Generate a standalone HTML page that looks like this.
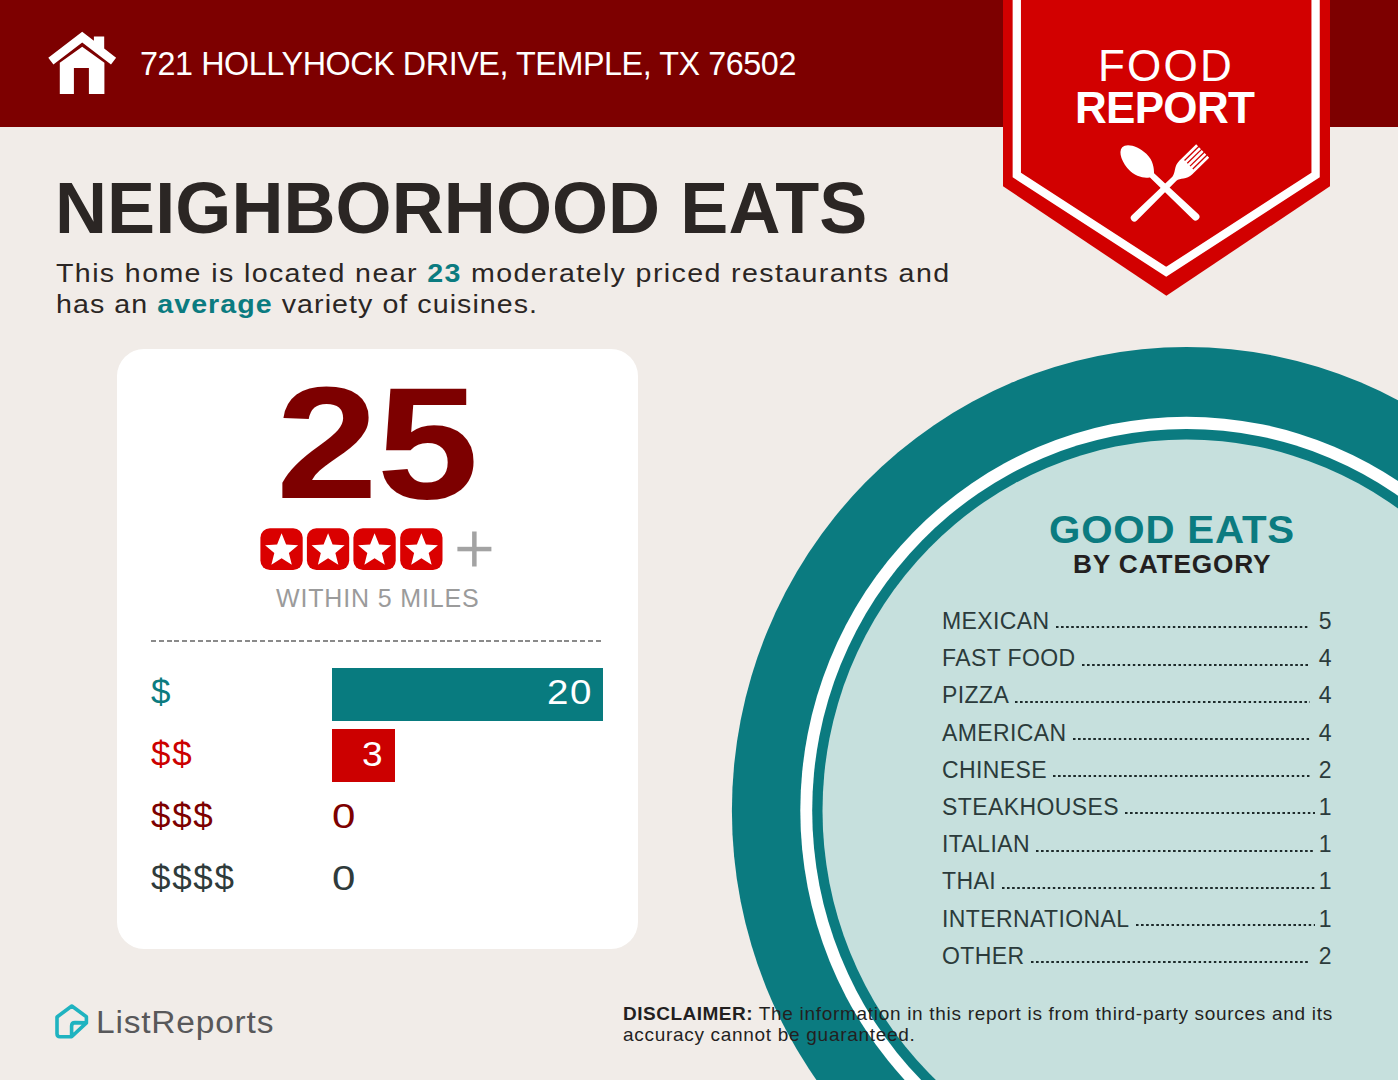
<!DOCTYPE html>
<html><head><meta charset="utf-8">
<style>
html,body{margin:0;padding:0;}
body{width:1398px;height:1080px;position:relative;overflow:hidden;background:#F1ECE8;font-family:"Liberation Sans",sans-serif;}
.abs{position:absolute;white-space:nowrap;transform-origin:0 0;}
#hdr{position:absolute;left:0;top:0;width:1398px;height:127px;background:#7D0000;}
#addr{left:140px;top:43.4px;font-size:34px;color:#fff;line-height:40px;letter-spacing:-0.44px;transform:scaleX(0.95);}
#title{left:55px;top:170px;font-size:72px;font-weight:bold;color:#2B2624;line-height:76px;letter-spacing:0.1px;}
.body{left:56px;font-size:26px;color:#2B2624;line-height:32px;letter-spacing:1.25px;transform:scaleX(1.1);}
.body b{color:#0B7B80;}
#card{position:absolute;left:117px;top:349px;width:521px;height:600px;background:#fff;border-radius:27px;}
#big{left:276px;top:362.5px;font-size:159px;font-weight:bold;color:#7D0000;line-height:160px;letter-spacing:-1px;transform:scaleX(1.152);}
#within{left:276px;top:583px;font-size:25px;color:#9B9B9B;line-height:30px;letter-spacing:0.85px;}
.dol{left:151px;font-size:35px;line-height:40px;letter-spacing:1.7px;}
.num{font-size:35px;line-height:40px;}
.cat{left:942px;width:390px;font-size:23px;color:#2B3B3B;line-height:30px;letter-spacing:0.4px;display:flex;align-items:baseline;}
.cat .l{flex:none;}
.cat .d{flex:1;margin:0 9px 0 6px;height:2.2px;align-self:baseline;position:relative;top:-0.4px;background:linear-gradient(90deg,#1d2a2a 2.2px,transparent 2.2px) 0 0/5.08px 2.2px repeat-x;}
.cat .n{flex:none;}
#disc{left:623px;top:1003px;font-size:19px;color:#231F1F;line-height:21px;letter-spacing:0.7px;}
#disc b{letter-spacing:0.5px;}
#logo{left:96px;top:1004.5px;font-size:31px;color:#58585A;line-height:36px;letter-spacing:0.75px;transform:scaleX(1.08);}
</style></head>
<body>
<div id="hdr"></div>
<svg class="abs" style="left:0;top:0" width="140" height="127" viewBox="0 0 140 127">
  <path fill="#fff" d="M48.3,57.8 L82.2,31.7 L93.9,40.7 L93.9,36.4 L104.2,36.4 L104.2,48.6 L116.1,57.8 L111,64.4 L82.2,42.6 L53.4,64.4 Z"/>
  <path fill="#fff" d="M82.2,46.7 L104.4,62.8 L104.4,93.9 L88.9,93.9 L88.9,68 L73.9,68 L73.9,93.9 L59.8,93.9 L59.8,62.8 Z"/>
</svg>
<div id="addr" class="abs">721 HOLLYHOCK DRIVE, TEMPLE, TX 76502</div>
<div id="title" class="abs">NEIGHBORHOOD EATS</div>
<div class="abs body" style="top:256.5px">This home is located near <b>23</b> moderately priced restaurants and</div>
<div class="abs body" style="top:288px;letter-spacing:0.96px">has an <b>average</b> variety of cuisines.</div>

<svg class="abs" style="left:0;top:0" width="1398" height="1080">
  <ellipse cx="1186.5" cy="810.7" rx="454.6" ry="463.7" fill="#0B7B80"/>
  <ellipse cx="1186.5" cy="810.7" rx="386.2" ry="393.9" fill="#fff"/>
  <ellipse cx="1186.5" cy="810.7" rx="374.3" ry="381.8" fill="#0B7B80"/>
  <ellipse cx="1186.5" cy="810.7" rx="364" ry="371.3" fill="#C6E0DD"/>
</svg>

<svg class="abs" style="left:0;top:0" width="1398" height="320">
  <polygon fill="#D20000" points="1003,0 1330,0 1330,186.2 1166.4,295.8 1003,186.2"/>
  <polyline fill="none" stroke="#fff" stroke-width="8.3" stroke-miterlimit="10" points="1016.8,-5 1016.8,175 1166.2,271.8 1315.6,175 1315.6,-5"/>
</svg>
<svg class="abs" style="left:1090px;top:130px" width="140" height="110" viewBox="1090 130 140 110">
  <g transform="translate(1165.1,187.8) rotate(45.6)" fill="#fff">
    <path d="M-3.6,43 A3.6,3.6 0 0 0 3.6,43 L2.9,-13 C3,-18 9.3,-21 9.3,-29 L9.3,-52.6 L-9.3,-52.6 L-9.3,-29 C-9.3,-21 -3,-18 -2.9,-13 Z"/>
    <g fill="#D20000"><rect x="-6.55" y="-54" width="1.3" height="21"/><rect x="-2.62" y="-54" width="1.3" height="21"/><rect x="1.32" y="-54" width="1.3" height="21"/><rect x="5.25" y="-54" width="1.3" height="21"/></g>
  </g>
  <g transform="translate(1165.1,187.8) rotate(-46.6)" fill="#fff">
    <path d="M0,-59 C6.5,-59 11.8,-48 11.8,-37 C11.8,-27 6,-21 3,-18 L3.8,42 A3.8,3.8 0 0 1 -3.8,42 L-3,-18 C-6,-21 -11.8,-27 -11.8,-37 C-11.8,-48 -6.5,-59 0,-59 Z"/>
  </g>
</svg>
<div class="abs" style="left:1098px;top:42px;font-size:44px;color:#fff;line-height:48px;letter-spacing:2.2px">FOOD</div>
<div class="abs" style="left:1075px;top:84px;font-size:44px;font-weight:bold;color:#fff;line-height:48px;letter-spacing:-0.7px">REPORT</div>

<div id="card"></div>
<div id="big" class="abs">25</div>
<svg class="abs" style="left:255px;top:520px" width="250" height="60" viewBox="255 520 250 60">
  <g fill="#DA0000">
    <rect x="260.4" y="528.3" width="42.3" height="41.8" rx="9.5"/>
    <rect x="306.9" y="528.3" width="42.3" height="41.8" rx="9.5"/>
    <rect x="353.4" y="528.3" width="42.3" height="41.8" rx="9.5"/>
    <rect x="400.2" y="528.3" width="42.3" height="41.8" rx="9.5"/>
  </g>
  <g fill="#fff"><polygon points="281.60,533.30 286.10,544.51 298.15,545.32 288.88,553.07 291.83,564.78 281.60,558.36 271.37,564.78 274.32,553.07 265.05,545.32 277.10,544.51"/><polygon points="328.10,533.30 332.60,544.51 344.65,545.32 335.38,553.07 338.33,564.78 328.10,558.36 317.87,564.78 320.82,553.07 311.55,545.32 323.60,544.51"/><polygon points="374.60,533.30 379.10,544.51 391.15,545.32 381.88,553.07 384.83,564.78 374.60,558.36 364.37,564.78 367.32,553.07 358.05,545.32 370.10,544.51"/><polygon points="421.40,533.30 425.90,544.51 437.95,545.32 428.68,553.07 431.63,564.78 421.40,558.36 411.17,564.78 414.12,553.07 404.85,545.32 416.90,544.51"/></g>
  <g fill="#A3A3A3">
    <rect x="457.4" y="546.8" width="34" height="4.5"/>
    <rect x="472.1" y="531.5" width="4.5" height="35"/>
  </g>
</svg>
<div id="within" class="abs">WITHIN 5 MILES</div>
<div class="abs" style="left:151px;top:639.5px;width:452px;height:2px;background:repeating-linear-gradient(90deg,#8a8a8a 0 5px,transparent 5px 7.8px);"></div>

<div class="abs" style="left:332px;top:667.6px;width:271px;height:53.2px;background:#087B7F;"></div>
<div class="abs" style="left:332px;top:729.3px;width:62.8px;height:53.2px;background:#CC0000;"></div>
<div class="abs dol" style="top:672px;color:#0B7B80">$</div>
<div class="abs dol" style="top:734px;color:#CC0000">$$</div>
<div class="abs dol" style="top:796px;color:#7D0000">$$$</div>
<div class="abs dol" style="top:858px;color:#2F3B3B">$$$$</div>
<div class="abs num" style="left:546.5px;top:672px;color:#fff;transform:scaleX(1.1);letter-spacing:1.5px">20</div>
<div class="abs num" style="left:362px;top:734px;color:#fff;transform:scaleX(1.06)">3</div>
<div class="abs num" style="left:332px;top:796px;color:#7D0000;transform:scaleX(1.2)">0</div>
<div class="abs num" style="left:332px;top:858px;color:#2F3B3B;transform:scaleX(1.2)">0</div>

<div class="abs" style="left:1048.5px;top:508px;font-size:38px;font-weight:bold;color:#0B7B80;line-height:44px;letter-spacing:0.76px;transform:scaleX(1.06)">GOOD EATS</div>
<div class="abs" style="left:1072.5px;top:550px;font-size:25px;font-weight:bold;color:#231F1F;line-height:28px;letter-spacing:0.81px;transform:scaleX(1.05)">BY CATEGORY</div>

<div class="abs cat" style="top:606px"><span class="l">MEXICAN</span><span class="d"></span><span class="n">5</span></div>
<div class="abs cat" style="top:643.2px"><span class="l">FAST FOOD</span><span class="d"></span><span class="n">4</span></div>
<div class="abs cat" style="top:680.4px"><span class="l">PIZZA</span><span class="d"></span><span class="n">4</span></div>
<div class="abs cat" style="top:717.6px"><span class="l">AMERICAN</span><span class="d"></span><span class="n">4</span></div>
<div class="abs cat" style="top:754.8px"><span class="l">CHINESE</span><span class="d"></span><span class="n">2</span></div>
<div class="abs cat" style="top:792px"><span class="l">STEAKHOUSES</span><span class="d" style="margin-right:3.5px"></span><span class="n">1</span></div>
<div class="abs cat" style="top:829.2px"><span class="l">ITALIAN</span><span class="d" style="margin-right:3.5px"></span><span class="n">1</span></div>
<div class="abs cat" style="top:866.4px"><span class="l">THAI</span><span class="d" style="margin-right:3.5px"></span><span class="n">1</span></div>
<div class="abs cat" style="top:903.6px"><span class="l">INTERNATIONAL</span><span class="d" style="margin-right:3.5px"></span><span class="n">1</span></div>
<div class="abs cat" style="top:940.8px"><span class="l">OTHER</span><span class="d"></span><span class="n">2</span></div>

<div id="disc" class="abs"><b>DISCLAIMER:</b> The information in this report is from third-party sources and its<br>accuracy cannot be guaranteed.</div>

<svg class="abs" style="left:50px;top:998px" width="45" height="46" viewBox="50 998 45 46">
  <path fill="none" stroke="#1FB3C0" stroke-width="3.6" stroke-linejoin="round" d="M71.8,1006 L57,1017 L57,1033.7 Q57,1036.7 60,1036.7 L71.6,1036.7 L86.4,1022.9 L86.4,1016.8 Z M71.6,1036.7 L71.6,1026 Q71.6,1022.6 75,1022.6 L86.4,1022.9"/>
</svg>
<div id="logo" class="abs">ListReports</div>
</body></html>
